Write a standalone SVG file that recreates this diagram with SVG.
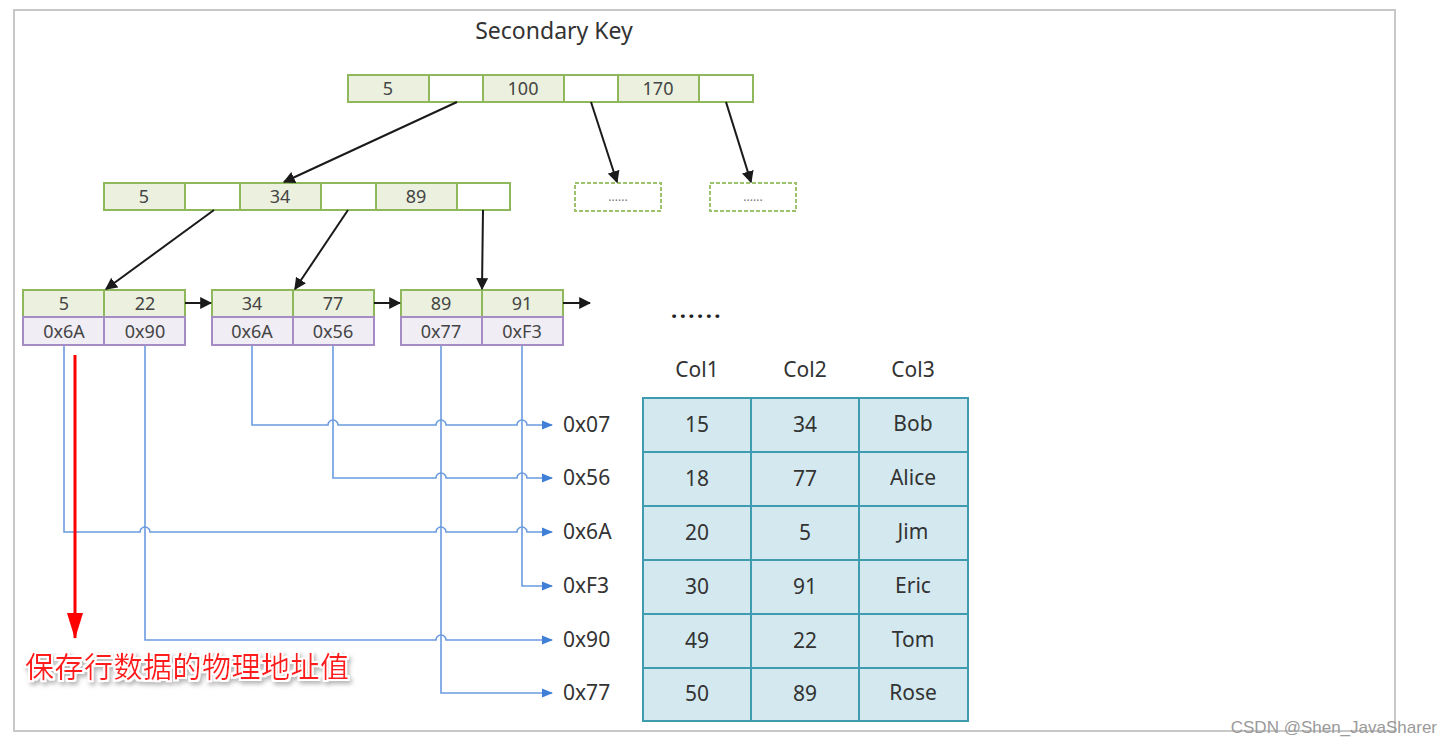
<svg xmlns="http://www.w3.org/2000/svg" width="1454" height="746" viewBox="0 0 1454 746">
<style>
.t{font-family:"Noto Sans","Open Sans","Liberation Sans",sans-serif;fill:#444;text-anchor:middle}
.k{fill:#ebf1de;stroke:#8fb75c;stroke-width:2}
.e{fill:#ffffff;stroke:#8fb75c;stroke-width:2}
.p{fill:#f0edf5;stroke:#a58cc4;stroke-width:2}
.d{fill:#ffffff;stroke:#9cc26a;stroke-width:2;stroke-dasharray:4,2}
.c{font-size:18px}
.tc{fill:#d3e9ef;stroke:#3f9bb0;stroke-width:2}
.tt{font-size:21px;fill:#333}
.ad{font-family:"Noto Sans","Open Sans","Liberation Sans",sans-serif;font-size:21px;fill:#333}
.tree{stroke:#1a1a1a;stroke-width:2;fill:none;marker-end:url(#ab)}
.blue{stroke:#6a9be0;stroke-width:1.6;fill:none;marker-end:url(#au)}
</style>
<defs>
<marker id="ab" viewBox="0 0 10 10" refX="9" refY="5" markerWidth="6" markerHeight="6" markerUnits="strokeWidth" orient="auto"><path d="M0,0 L10,5 L0,10 z" fill="#1a1a1a"/></marker>
<marker id="au" viewBox="0 0 10 10" refX="9" refY="5" markerWidth="7" markerHeight="7" markerUnits="strokeWidth" orient="auto"><path d="M0,1 L10,5 L0,9 z" fill="#3f7fd6"/></marker>
<marker id="ar" viewBox="0 0 26 16" refX="25" refY="8" markerWidth="26" markerHeight="16" markerUnits="userSpaceOnUse" orient="auto"><path d="M0,0 L26,8 L0,16 z" fill="#ff0000"/></marker>
<filter id="halo" x="-10%" y="-30%" width="120%" height="170%">
<feMorphology in="SourceAlpha" operator="dilate" radius="2" result="dil"/>
<feGaussianBlur in="dil" stdDeviation="2" result="blur"/>
<feOffset in="blur" dx="2" dy="3" result="sh"/>
<feFlood flood-color="#888" flood-opacity="0.6"/>
<feComposite in2="sh" operator="in" result="shadow"/>
<feFlood flood-color="#ffffff"/>
<feComposite in2="dil" operator="in" result="white"/>
<feMerge><feMergeNode in="shadow"/><feMergeNode in="white"/><feMergeNode in="SourceGraphic"/></feMerge>
</filter>
</defs>
<rect width="1454" height="746" fill="#ffffff"/>
<rect x="14" y="10" width="1381" height="721" fill="none" stroke="#c8c8c8" stroke-width="2"/>
<text class="t" x="554" y="39" style="font-size:23px;fill:#333">Secondary Key</text>

<g id="root">
<rect class="k" x="348" y="75" width="81" height="27"/><rect class="e" x="429" y="75" width="54" height="27"/>
<rect class="k" x="483" y="75" width="81" height="27"/><rect class="e" x="564" y="75" width="54" height="27"/>
<rect class="k" x="618" y="75" width="81" height="27"/><rect class="e" x="699" y="75" width="54" height="27"/>
<text class="t c" x="388" y="95">5</text><text class="t c" x="523" y="95">100</text><text class="t c" x="658" y="95">170</text>
</g>
<g id="dots1"><rect class="d" x="575" y="183" width="86" height="28"/><text class="t" x="618" y="201" style="font-size:12px;fill:#777">......</text></g>
<g id="dots2"><rect class="d" x="710" y="183" width="86" height="28"/><text class="t" x="753" y="201" style="font-size:12px;fill:#777">......</text></g>

<g id="mid">
<rect class="k" x="104" y="183" width="81" height="27"/><rect class="e" x="185" y="183" width="55" height="27"/>
<rect class="k" x="240" y="183" width="81" height="27"/><rect class="e" x="321" y="183" width="55" height="27"/>
<rect class="k" x="376" y="183" width="81" height="27"/><rect class="e" x="457" y="183" width="53" height="27"/>
<text class="t c" x="144" y="203">5</text><text class="t c" x="280" y="203">34</text><text class="t c" x="416" y="203">89</text>
</g>

<g id="leaf1">
<rect class="k" x="23" y="290" width="81" height="27"/><rect class="k" x="104" y="290" width="81" height="27"/>
<rect class="p" x="23" y="317" width="81" height="28"/><rect class="p" x="104" y="317" width="81" height="28"/>
<text class="t c" x="64" y="310">5</text><text class="t c" x="145" y="310">22</text>
<text class="t c" x="64" y="338">0x6A</text><text class="t c" x="145" y="338">0x90</text>
</g>
<g id="leaf2">
<rect class="k" x="212" y="290" width="81" height="27"/><rect class="k" x="293" y="290" width="81" height="27"/>
<rect class="p" x="212" y="317" width="81" height="28"/><rect class="p" x="293" y="317" width="81" height="28"/>
<text class="t c" x="252" y="310">34</text><text class="t c" x="333" y="310">77</text>
<text class="t c" x="252" y="338">0x6A</text><text class="t c" x="333" y="338">0x56</text>
</g>
<g id="leaf3">
<rect class="k" x="401" y="290" width="81" height="27"/><rect class="k" x="482" y="290" width="81" height="27"/>
<rect class="p" x="401" y="317" width="81" height="28"/><rect class="p" x="482" y="317" width="81" height="28"/>
<text class="t c" x="441" y="310">89</text><text class="t c" x="522" y="310">91</text>
<text class="t c" x="441" y="338">0x77</text><text class="t c" x="522" y="338">0xF3</text>
</g>
<text class="t" x="697" y="318" style="font-size:22px;fill:#222;font-weight:bold;letter-spacing:2.5px">......</text>

<g id="connectors">
<line class="tree" x1="457" y1="102" x2="284" y2="182"/>
<line class="tree" x1="591" y1="102" x2="617" y2="182"/>
<line class="tree" x1="726" y1="102" x2="751" y2="182"/>
<line class="tree" x1="214" y1="210" x2="106" y2="289"/>
<line class="tree" x1="348" y1="210" x2="295" y2="289"/>
<line class="tree" x1="483" y1="210" x2="482" y2="289"/>
<line class="tree" x1="185" y1="303" x2="211" y2="303"/>
<line class="tree" x1="374" y1="303" x2="400" y2="303"/>
<line class="tree" x1="563" y1="303" x2="590" y2="303"/>

<path class="blue" d="M252,346 V425 H328 a5,5 0 0 1 10,0 H436 a5,5 0 0 1 10,0 H517 a5,5 0 0 1 10,0 H552"/>
<path class="blue" d="M333,346 V478 H436 a5,5 0 0 1 10,0 H517 a5,5 0 0 1 10,0 H552"/>
<path class="blue" d="M64,346 V532 H140 a5,5 0 0 1 10,0 H436 a5,5 0 0 1 10,0 H517 a5,5 0 0 1 10,0 H552"/>
<path class="blue" d="M522,346 V586 H552"/>
<path class="blue" d="M145,346 V640 H436 a5,5 0 0 1 10,0 H552"/>
<path class="blue" d="M441,346 V693 H552"/>

<line x1="75" y1="355" x2="75" y2="638" stroke="#ff0000" stroke-width="3" marker-end="url(#ar)"/>
</g>

<text class="ad" x="563" y="432">0x07</text>
<text class="ad" x="563" y="485">0x56</text>
<text class="ad" x="563" y="539">0x6A</text>
<text class="ad" x="563" y="593">0xF3</text>
<text class="ad" x="563" y="647">0x90</text>
<text class="ad" x="563" y="700">0x77</text>

<text x="25" y="678" filter="url(#halo)" style="font-family:'Noto Sans CJK SC','Noto Sans CJK JP',sans-serif;font-size:29px;fill:#ff1a1a;letter-spacing:0.5px">保存行数据的物理地址值</text>

<g id="table">
<text class="t tt" x="697" y="377">Col1</text><text class="t tt" x="805" y="377">Col2</text><text class="t tt" x="913" y="377">Col3</text>
<rect class="tc" x="643" y="398" width="108" height="54"/><rect class="tc" x="751" y="398" width="108" height="54"/><rect class="tc" x="859" y="398" width="109" height="54"/>
<rect class="tc" x="643" y="452" width="108" height="54"/><rect class="tc" x="751" y="452" width="108" height="54"/><rect class="tc" x="859" y="452" width="109" height="54"/>
<rect class="tc" x="643" y="506" width="108" height="54"/><rect class="tc" x="751" y="506" width="108" height="54"/><rect class="tc" x="859" y="506" width="109" height="54"/>
<rect class="tc" x="643" y="560" width="108" height="54"/><rect class="tc" x="751" y="560" width="108" height="54"/><rect class="tc" x="859" y="560" width="109" height="54"/>
<rect class="tc" x="643" y="614" width="108" height="54"/><rect class="tc" x="751" y="614" width="108" height="54"/><rect class="tc" x="859" y="614" width="109" height="54"/>
<rect class="tc" x="643" y="668" width="108" height="53"/><rect class="tc" x="751" y="668" width="108" height="53"/><rect class="tc" x="859" y="668" width="109" height="53"/>
<text class="t tt" x="697" y="432">15</text><text class="t tt" x="805" y="432">34</text><text class="t tt" x="913" y="431">Bob</text>
<text class="t tt" x="697" y="486">18</text><text class="t tt" x="805" y="486">77</text><text class="t tt" x="913" y="485">Alice</text>
<text class="t tt" x="697" y="540">20</text><text class="t tt" x="805" y="540">5</text><text class="t tt" x="913" y="539">Jim</text>
<text class="t tt" x="697" y="594">30</text><text class="t tt" x="805" y="594">91</text><text class="t tt" x="913" y="593">Eric</text>
<text class="t tt" x="697" y="648">49</text><text class="t tt" x="805" y="648">22</text><text class="t tt" x="913" y="647">Tom</text>
<text class="t tt" x="697" y="701">50</text><text class="t tt" x="805" y="701">89</text><text class="t tt" x="913" y="700">Rose</text>
</g>

<text x="1437" y="733" style="font-family:'Liberation Sans',Arial,sans-serif;font-size:17px;fill:#9a9a9a;text-anchor:end">CSDN @Shen_JavaSharer</text>
</svg>
